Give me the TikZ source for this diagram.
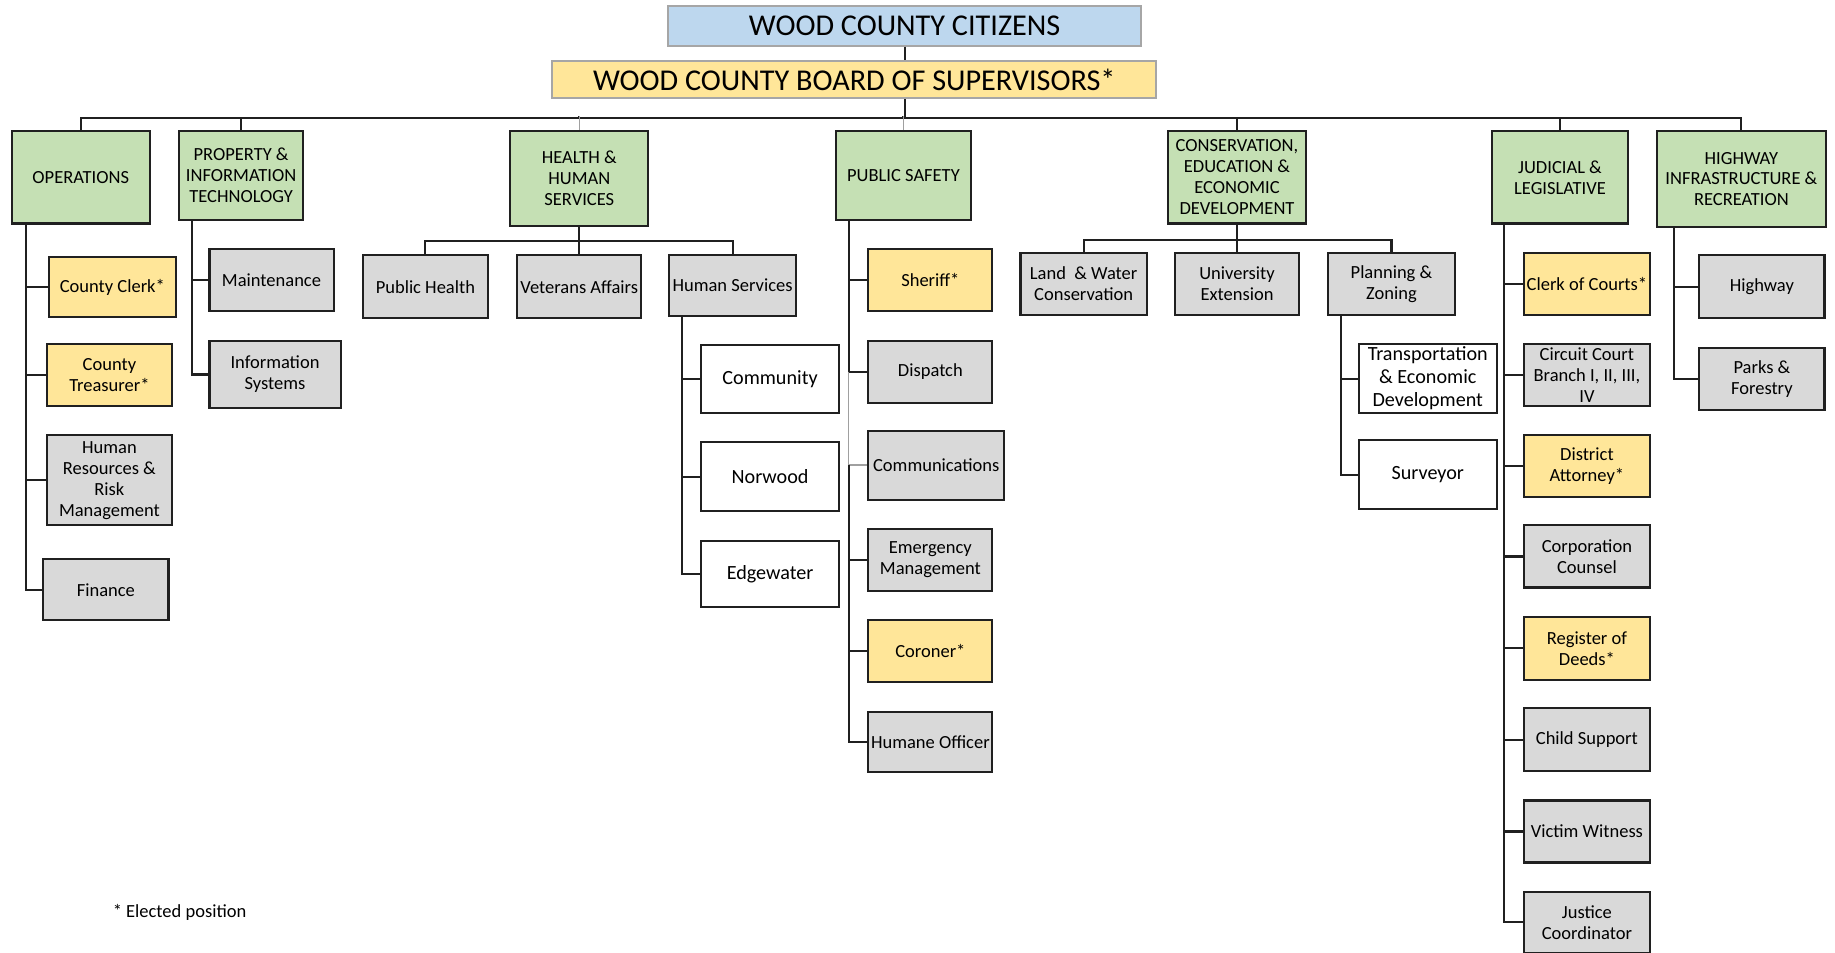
\documentclass[tikz,border=0pt]{standalone}
\usepackage{fontspec}
\setmainfont{Carlito}
\usetikzlibrary{calc}
\definecolor{grnF}{HTML}{C5E0B4}
\definecolor{ylwF}{HTML}{FFE699}
\definecolor{gryF}{HTML}{D9D9D9}
\definecolor{bluF}{HTML}{BDD7EE}
\definecolor{bdC}{HTML}{202020}
\definecolor{topbdC}{HTML}{A6A6A6}
\definecolor{lnC}{HTML}{202020}
\definecolor{lightlnC}{HTML}{A0A0A0}
\tikzset{
  base/.style={draw=bdC, line width=1pt, align=center, inner xsep=0.5pt, inner ysep=1pt,
    font=\fontsize{9}{10.2}\selectfont, text=black},
  sz/.style 2 args={minimum width=#1*0.02cm, minimum height=#2*0.02cm},
  grnbox/.style={base, fill=grnF},
  ylwbox/.style={base, fill=ylwF},
  grybox/.style={base, fill=gryF},
  whtbox/.style={base, fill=white, font=\fontsize{9.8}{11.2}\selectfont},
  topbox/.style={draw=topbdC, line width=1pt, inner sep=0pt, font=\fontsize{14.7}{16}\selectfont, text=black},
  conn/.style={draw=lnC, line width=1pt},
  lconn/.style={draw=lightlnC, line width=0.7pt},
}
\begin{document}
\begin{tikzpicture}[x=0.02cm, y=-0.02cm]
\useasboundingbox (0,0) rectangle (1568,814);

% top
\node[topbox, fill=bluF, sz={404}{34}] (cit) at (773,22) {WOOD COUNTY CITIZENS};
\node[topbox, fill=ylwF, sz={516}{32}] (brd) at (730,68) {WOOD COUNTY BOARD OF SUPERVISORS*};

% departments
\node[grnbox, sz={118}{79}] (ops) at (69,151.5) {OPERATIONS};
\node[grnbox, sz={106}{76}] (prop) at (206,150) {PROPERTY \&\\INFORMATION\\TECHNOLOGY};
\node[grnbox, sz={118}{81}] (hhs) at (495,152.5) {HEALTH \&\\HUMAN\\SERVICES};
\node[grnbox, sz={116}{76}] (ps) at (772,150) {PUBLIC SAFETY};
\node[grnbox, sz={118}{79}] (ced) at (1057,151.5) {CONSERVATION,\\EDUCATION \&\\ECONOMIC\\DEVELOPMENT};
\node[grnbox, sz={116}{79}] (jud) at (1333,151.5) {JUDICIAL \&\\LEGISLATIVE};
\node[grnbox, sz={144}{82}] (hwy) at (1488,153) {HIGHWAY\\INFRASTRUCTURE \&\\RECREATION};

% operations children
\node[ylwbox, sz={108}{51}] (clerk) at (96,245.5) {County Clerk*};
\node[ylwbox, sz={107}{53}] (treas) at (93.5,320.5) {County\\Treasurer*};
\node[grybox, sz={107}{77}] (hr) at (93.5,410.5) {Human\\Resources \&\\Risk\\Management};
\node[grybox, sz={107}{52}] (fin) at (90.5,504) {Finance};

% property children
\node[grybox, sz={106}{53}] (maint) at (232,239.5) {Maintenance};
\node[grybox, sz={112}{58}] (infos) at (235,320) {Information\\Systems};

% health children
\node[grybox, sz={107}{54}] (ph) at (363.5,245) {Public Health};
\node[grybox, sz={106}{54}] (va) at (495,245) {Veterans Affairs};
\node[grybox, sz={108}{52}] (hs) at (626,244) {Human Services};
\node[whtbox, sz={118}{58}] (comm) at (658,324) {Community};
\node[whtbox, sz={118}{59}] (norw) at (658,407.5) {Norwood};
\node[whtbox, sz={118}{57}] (edge) at (658,490.5) {Edgewater};

% public safety children
\node[ylwbox, sz={106}{53}] (sher) at (795,239.5) {Sheriff*};
\node[grybox, sz={106}{53}] (disp) at (795,317.5) {Dispatch};
\node[grybox, sz={116}{59}] (commu) at (800,397.5) {Communications};
\node[grybox, sz={106}{53}] (em) at (795,478.5) {Emergency\\Management};
\node[ylwbox, sz={106}{53}] (cor) at (795,556.5) {Coroner*};
\node[grybox, sz={106}{52}] (hum) at (795,634) {Humane Officer};

% conservation children
\node[grybox, sz={108}{53}] (lwc) at (926,242.5) {Land \ \& Water\\Conservation};
\node[grybox, sz={106}{53}] (ue) at (1057,242.5) {University\\Extension};
\node[grybox, sz={108}{53}] (pz) at (1189,242.5) {Planning \&\\Zoning};
\node[whtbox, sz={118}{59}] (ted) at (1220,323.5) {Transportation\\\& Economic\\Development};
\node[whtbox, sz={118}{59}] (surv) at (1220,405.5) {Surveyor};

% judicial children
\node[ylwbox, sz={108}{53}] (coc) at (1356,242.5) {Clerk of Courts*};
\node[grybox, sz={108}{53}] (cc) at (1356,320.5) {Circuit Court\\Branch I, II, III,\\IV};
\node[ylwbox, sz={108}{53}] (da) at (1356,398.5) {District\\Attorney*};
\node[grybox, sz={108}{53}] (corp) at (1356,475.5) {Corporation\\Counsel};
\node[ylwbox, sz={108}{54}] (rod) at (1356,554) {Register of\\Deeds*};
\node[grybox, sz={108}{54}] (cs) at (1356,632) {Child Support};
\node[grybox, sz={108}{53}] (vw) at (1356,710.5) {Victim Witness};
\node[grybox, sz={108}{52}] (jc) at (1356,788) {Justice\\Coordinator};

% highway children
\node[grybox, sz={107}{54}] (hw) at (1505.5,245) {Highway};
\node[grybox, sz={107}{53}] (pf) at (1505.5,323.5) {Parks \&\\Forestry};

% legend
\node[anchor=west, inner sep=0pt, font=\fontsize{9}{10.2}\selectfont, text=black] (leg) at (96,780) {* Elected position};

% top connectors
\draw[conn] (cit.south) -- (cit.south |- brd.north);
\draw[conn] (cit.south |- brd.south) -- ++(0,16) coordinate (busC);
\foreach \d in {ops,prop,ced,jud,hwy}{\draw[conn] (busC) -| (\d.north);}
\draw[conn] (busC) -| ($(hhs.north)+(0,-12)$);
\draw[conn] (busC) -| ($(ps.north)+(0,-12)$);
\draw[lconn] ($(hhs.north)+(0,-12)$) -- (hhs.north);
\draw[lconn] ($(ps.north)+(0,-12)$) -- (ps.north);

% operations trunk
\coordinate (opsT) at ($(ops.south west)+(13,0)$);
\foreach \c in {clerk,treas,hr,fin}{\draw[conn] (opsT) |- (\c.west);}

% property trunk
\coordinate (propT) at ($(prop.south west)+(12,0)$);
\foreach \c in {maint,infos}{\draw[conn] (propT) |- (\c.west);}

% health bus
\coordinate (hhsB) at ($(hhs.south)+(0,12)$);
\draw[conn] (hhs.south) -- (va.north);
\draw[conn] (hhsB) -| (ph.north);
\draw[conn] (hhsB) -| (hs.north);
\coordinate (hsT) at ($(hs.south west)+(12,0)$);
\foreach \c in {comm,norw,edge}{\draw[conn] (hsT) |- (\c.west);}

% public safety trunk
\coordinate (psT) at ($(ps.south west)+(12,0)$);
\draw[conn] (psT) |- (sher.west);
\draw[conn] (psT) |- (disp.west);
\draw[lconn] (psT |- disp.west) |- (commu.west);
\draw[conn] (psT |- commu.west) |- (em.west);
\draw[conn] (psT |- em.west) |- (cor.west);
\draw[conn] (psT |- cor.west) |- (hum.west);

% conservation bus
\coordinate (cedB) at ($(ced.south)+(0,13)$);
\draw[conn] (ced.south) -- (ue.north);
\draw[conn] (cedB) -| (lwc.north);
\draw[conn] (cedB) -| (pz.north);
\coordinate (pzT) at ($(pz.south west)+(12,0)$);
\foreach \c in {ted,surv}{\draw[conn] (pzT) |- (\c.west);}

% judicial trunk
\coordinate (judT) at ($(jud.south west)+(11,0)$);
\foreach \c in {coc,cc,da,corp,rod,cs,vw,jc}{\draw[conn] (judT) |- (\c.west);}

% highway trunk
\coordinate (hwyT) at ($(hwy.south west)+(15,0)$);
\foreach \c in {hw,pf}{\draw[conn] (hwyT) |- (\c.west);}
\end{tikzpicture}
\end{document}
